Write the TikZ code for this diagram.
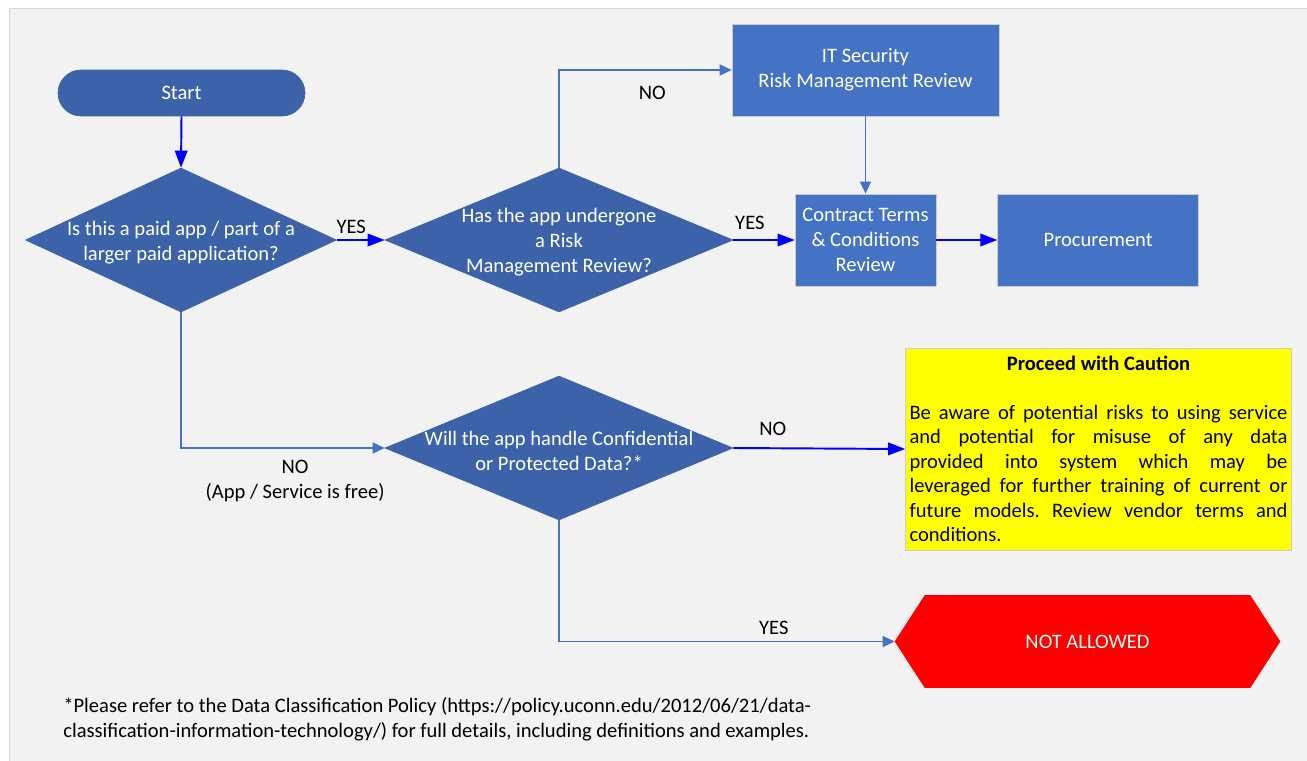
\documentclass[tikz,border=0pt]{standalone}
\usepackage{fontspec}
\setmainfont{Carlito}
\usepackage{xcolor}
\usetikzlibrary{shapes.geometric, arrows.meta, positioning}

\definecolor{deciblue}{RGB}{60,99,170}
\definecolor{boxblue}{RGB}{68,114,196}
\definecolor{pureblue}{RGB}{0,0,255}
\definecolor{cautionyellow}{RGB}{255,255,0}
\definecolor{stopred}{RGB}{255,0,0}
\definecolor{panelgray}{RGB}{242,242,242}

\begin{document}
\frenchspacing
\begin{tikzpicture}[x=0.02cm,y=-0.02cm,
        font=\fontsize{11.7}{14.2}\selectfont,
        terminal/.style={draw=deciblue,fill=deciblue,text=white,rounded corners=0.46cm,minimum width=4.94cm,minimum height=0.92cm},
        decision/.style={diamond,draw=deciblue,fill=deciblue,inner sep=0pt},
        decisiontext/.style={text=white,align=center,yshift=-0.05cm},
        process/.style={draw=black!20,fill=boxblue,text=white,align=center,inner xsep=2pt,minimum height=1.84cm},
        caution/.style={draw=black!20,fill=cautionyellow,text width=7.56cm,inner xsep=0.08cm,minimum height=4.04cm,align=justify,font=\fontsize{11.7}{13.9}\selectfont},
        yesflow/.style={-{Triangle[length=0.34cm,width=0.25cm]},draw=pureblue,line width=1.1pt},
        sideflow/.style={-{Triangle[length=0.24cm,width=0.22cm]},draw=boxblue,line width=0.8pt}]

        % panel
        \useasboundingbox (0,0) rectangle (1307,760);
        \filldraw[fill=panelgray,draw=black!15] (9.5,8.5) rectangle (1320,775);

        \node[terminal] (start) at (181.5,93) {Start};
        \node[decision,minimum width=6.22cm,minimum height=2.88cm,
            label={[decisiontext]center:{Is this a paid app / part of a\\larger paid application?}}] (paid) at (181,240) {};
        \node[decision,minimum width=6.96cm,minimum height=2.88cm,
            label={[decisiontext]center:{Has the app undergone\\a Risk\\Management Review?}}] (review) at (559,240) {};
        \node[decision,minimum width=6.96cm,minimum height=2.88cm,
            label={[decisiontext]center:{Will the app handle Confidential\\or Protected Data?*}}] (data) at (559,448) {};

        \node[process,minimum width=5.34cm] (itsec) at (865.5,70) {IT Security\\Risk Management Review};
        \node[process,minimum width=2.82cm] (terms) at (865.5,240) {Contract Terms\\\& Conditions\\Review};
        \node[process,minimum width=4.02cm] (proc) [right=1.22cm of terms] {Procurement};

        \node[caution] (caution) at (1098.5,449) {{\centering\textbf{Proceed with Caution}\par}
            \vspace{13.9pt}
            Be aware of potential risks to using service\linebreak
            and potential for misuse of any data\linebreak
            provided into system which may be\linebreak
            leveraged for further training of current or\linebreak
            future models. Review vendor terms and\linebreak
            conditions.};

        % hexagon
        \node[minimum width=7.7cm,minimum height=1.84cm] (notallowed) at (1087.5,641.5) {};
        \fill[stopred] (notallowed.west) -- ([xshift=0.6cm]notallowed.north west) -- ([xshift=-0.6cm]notallowed.north east)
            -- (notallowed.east) -- ([xshift=-0.6cm]notallowed.south east) -- ([xshift=0.6cm]notallowed.south west) -- cycle;
        \node[text=white] (notallowedlabel) at (notallowed) {NOT ALLOWED};

        \node[anchor=north west,align=left,inner sep=0pt] (footnote) at (63,697)
            {*Please refer to the Data Classification Policy (https://policy.uconn.edu/2012/06/21/data-\\
            classification-information-technology/) for full details, including definitions and examples.};

        \draw[yesflow] (start.south) -- (paid.north);
        \draw[yesflow] (paid.east) -- node[above,pos=0.3] {YES} (review.west);
        \draw[sideflow] (review.north) |- node[pos=0.77,below=0.2cm] {NO} (itsec.west);
        \draw[sideflow] (itsec.south) -- (terms.north);
        \draw[yesflow] (review.east) -- node[above=2pt,pos=0.27] {YES} (terms.west);
        \draw[yesflow] (terms.east) -- (proc.west);
        \draw[sideflow] (paid.south) |- node[pos=0.78,below=0.12cm,align=center] {NO\\(App / Service is free)} (data.west);
        \draw[yesflow] (data.east) -- node[above=3pt,pos=0.23] {NO} (caution.west);
        \draw[sideflow] (data.south) |- node[pos=0.82,above] {YES} (notallowed.west);
    \end{tikzpicture}
\end{document}
